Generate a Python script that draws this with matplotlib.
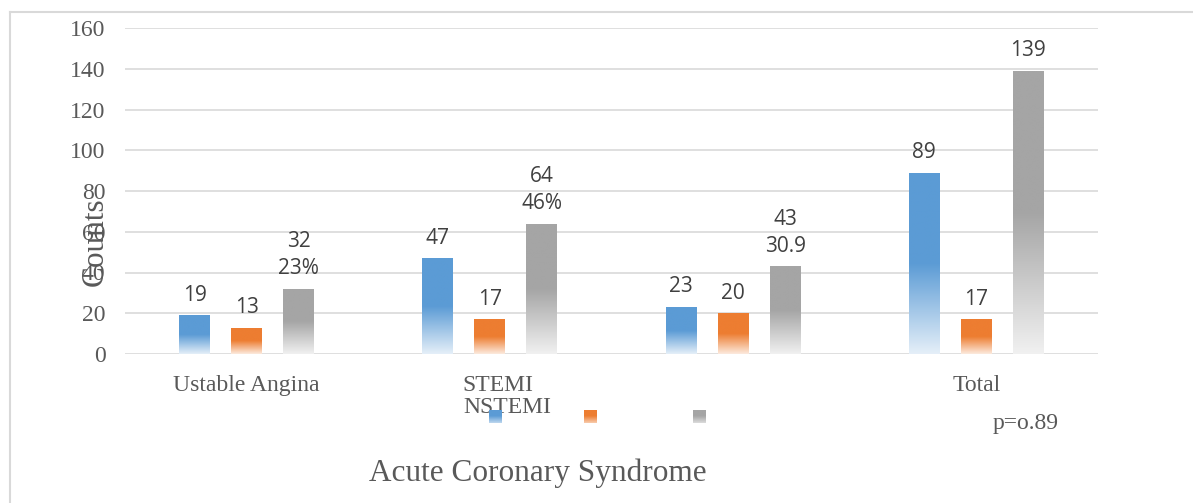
import numpy as np
import matplotlib
matplotlib.use("Agg")
import matplotlib.pyplot as plt
import matplotlib.transforms as mtransforms
from matplotlib.colors import to_rgb
from matplotlib.lines import Line2D

# ---- data ----
categories = ["Ustable Angina", "STEMI\nNSTEMI", "", "Total"]
series_a = [19, 47, 23, 89]      # blue
series_b = [13, 17, 20, 17]      # orange
series_c = [32, 64, 43, 139]     # gray
series_c_share = ["23%", "46%", "30.9", ""]
p_text = "p=o.89"
y_ticks = [0, 20, 40, 60, 80, 100, 120, 140, 160]

colors = ["#5B9BD5", "#ED7D31", "#A5A5A5"]
text_col = "#595959"
label_col = "#404040"
grid_col = "#D9D9D9"
serif = "Liberation Serif"
sans = "Open Sans"


def gradient_rgba(color, n=200, solid=0.5, fade=0.84):
    """Vertical gradient: solid on top, fading toward white at the bottom."""
    c = np.array(to_rgb(color))
    light = c + (1 - c) * fade
    t = np.linspace(0, 1, n)  # 0 = top, 1 = bottom
    w = np.clip((t - solid) / (1 - solid), 0, 1)[:, None]
    rgb = c[None, :] * (1 - w) + light[None, :] * w
    return np.concatenate([rgb, np.ones((n, 1))], axis=1)[:, None, :]


W, H = 1193, 503
fig = plt.figure(figsize=(W / 100, H / 100), dpi=100)
ax = fig.add_axes([125 / W, 1 - 354 / H, 973 / W, 326 / H])

x = np.arange(len(categories))
offset = 0.214
width = 0.127

all_series = [series_a, series_b, series_c]
bar_groups = []
for k, (vals, col) in enumerate(zip(all_series, colors)):
    bars = ax.bar(x + (k - 1) * offset, vals, width=width, color="none",
                  edgecolor="none", zorder=3)
    bar_groups.append(bars)
    grad = gradient_rgba(col)
    for patch in bars:
        x0, w, h = patch.get_x(), patch.get_width(), patch.get_height()
        im = ax.imshow(grad, extent=[x0, x0 + w, 0, h], aspect="auto",
                       interpolation="bilinear", zorder=3, origin="upper")
        im.set_clip_path(patch)

# value labels
for bars, vals in zip(bar_groups[:2], all_series[:2]):
    for patch, v in zip(bars, vals):
        ax.annotate(str(v), (patch.get_x() + patch.get_width() / 2, v),
                    xytext=(0, 7), textcoords="offset points",
                    ha="center", va="bottom", fontsize=15, family=sans,
                    color=label_col)
for patch, v, s in zip(bar_groups[2], series_c, series_c_share):
    txt = f"{v}\n{s}" if s else str(v)
    ax.annotate(txt, (patch.get_x() + patch.get_width() / 2, v),
                xytext=(0, 7), textcoords="offset points",
                ha="center", va="bottom", fontsize=15, family=sans,
                color=label_col, linespacing=1.35)

ax.set_xlim(-0.5, len(categories) - 0.5)
ax.set_ylim(0, 160)
ax.set_yticks(y_ticks)
ax.set_yticklabels([str(t) for t in y_ticks], family=serif, fontsize=17,
                   color=text_col)
ax.set_xticks(x)
ax.set_xticklabels(categories, family=serif, fontsize=17, color=text_col)
ax.tick_params(axis="both", length=0)
ax.tick_params(axis="y", pad=14)
ax.tick_params(axis="x", pad=15)
ax.grid(axis="y", color=grid_col, linewidth=1.2, zorder=0)
ax.set_axisbelow(True)
for sp in ax.spines.values():
    sp.set_visible(False)

# two-line category label sits left-aligned, shifted left of its tick
lbl = ax.get_xticklabels()[1]
lbl.set_horizontalalignment("left")
lbl.set_multialignment("left")
lbl.set_linespacing(1.05)
lbl.set_transform(lbl.get_transform() +
                  mtransforms.ScaledTranslation(-27 / 100, 0, fig.dpi_scale_trans))

# legend swatches (no text)
for col, x0 in zip(colors, [489, 584, 693]):
    sw = fig.add_axes([x0 / W, 1 - 423 / H, 13 / W, 13 / H])
    sw.imshow(gradient_rgba(col, n=40, solid=0.45, fade=0.6), aspect="auto",
              interpolation="bilinear")
    sw.set_axis_off()

fig.text(993 / W, 1 - 423 / H, p_text, family=serif, fontsize=17,
         color=text_col, ha="left", va="center")
fig.text(538 / W, 1 - 473 / H, "Acute Coronary Syndrome", family=serif,
         fontsize=22.5, color=text_col, ha="center", va="center")
fig.text(95 / W, 1 - 242 / H, "Counts", family=serif, fontsize=22.5,
         color=text_col, ha="center", va="center", rotation=90)

# chart frame (top and left edges)
fig.add_artist(Line2D([10 / W, 10 / W], [0, 1 - 12 / H], color=grid_col,
                      linewidth=1.5, transform=fig.transFigure))
fig.add_artist(Line2D([10 / W, 1], [1 - 12 / H, 1 - 12 / H], color=grid_col,
                      linewidth=1.5, transform=fig.transFigure))

fig.savefig("out.png", dpi=100, facecolor="white")
